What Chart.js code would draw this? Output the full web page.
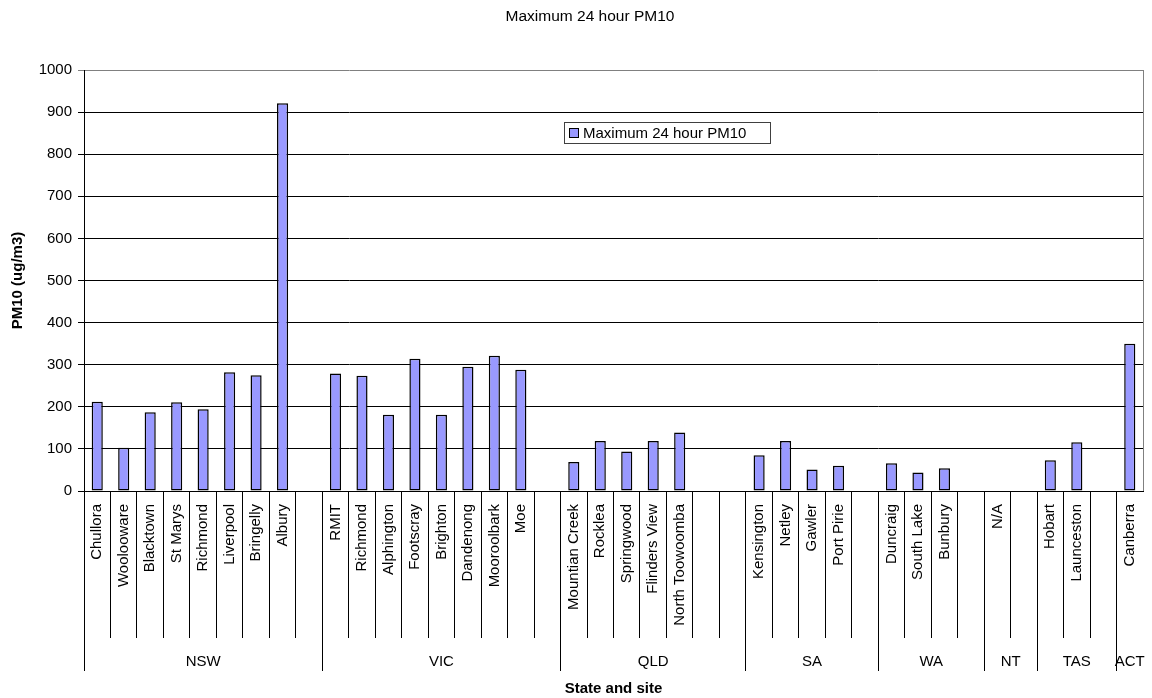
<!DOCTYPE html>
<html>
<head>
<meta charset="utf-8">
<title>Maximum 24 hour PM10</title>
<script src="https://cdn.jsdelivr.net/npm/chart.js@4.4.1/dist/chart.umd.min.js"></script>
<style>
    html, body { margin: 0; padding: 0; background: #fff; }
    #wrap { width: 1152px; height: 698px; position: relative; }
</style>
</head>
<body>
<div id="wrap"><canvas id="pm10Chart"></canvas></div>
<script>
// Datos
const tituloGrafico = 'Maximum 24 hour PM10';
const sitios = [
    'Chullora', 'Woolooware', 'Blacktown', 'St Marys', 'Richmond', 'Liverpool', 'Bringelly', 'Albury', '',
    'RMIT', 'Richmond', 'Alphington', 'Footscray', 'Brighton', 'Dandenong', 'Mooroolbark', 'Moe', '',
    'Mountian Creek', 'Rocklea', 'Springwood', 'Flinders View', 'North Toowoomba', '', '',
    'Kensington', 'Netley', 'Gawler', 'Port Pirie', '',
    'Duncraig', 'South Lake', 'Bunbury', '',
    'N/A', '',
    'Hobart', 'Launceston', '',
    'Canberra'
];
const valoresPM10 = [
    212, 103, 187, 211, 194, 282, 275, 921, null,
    279, 274, 181, 314, 181, 295, 321, 288, null,
    69, 119, 94, 119, 139, null, null,
    85, 119, 51, 60, null,
    66, 44, 54, null,
    null, null,
    73, 116, null,
    350
];
const estados = ['NSW', 'VIC', 'QLD', 'SA', 'WA', 'NT', 'TAS', 'ACT'];
const sitiosPorEstado = [9, 9, 7, 5, 4, 2, 3, 1];
const ticksY = { min: 0, max: 1000, step: 100 };

const fuente = "'Liberation Sans', Arial, sans-serif";

function alinear(px) {
    return Math.round(px - 0.5) + 0.5;
}

// Titulo, leyenda y grupos de estados
const extrasPlugin = {
    id: 'extras',
    afterDraw(chart) {
        const ctx = chart.ctx;
        const area = chart.chartArea;
        const x = chart.scales.x;
        ctx.save();

        // borde derecho gris
        ctx.strokeStyle = '#808080';
        ctx.lineWidth = 1;
        ctx.beginPath();
        ctx.moveTo(alinear(area.right), area.top);
        ctx.lineTo(alinear(area.right), area.bottom);
        ctx.stroke();

        // titulo
        ctx.fillStyle = '#000';
        ctx.font = '15.5px ' + fuente;
        ctx.textAlign = 'center';
        ctx.textBaseline = 'middle';
        ctx.fillText(tituloGrafico, 590, 17);

        // leyenda
        ctx.font = '15px ' + fuente;
        const lx = 564, ly = 122, lw = 206, lh = 21;
        ctx.fillStyle = '#fff';
        ctx.fillRect(lx, ly, lw, lh);
        ctx.strokeStyle = '#404040';
        ctx.strokeRect(lx + 0.5, ly + 0.5, lw, lh);
        const ds = chart.data.datasets[0];
        ctx.fillStyle = ds.backgroundColor;
        ctx.fillRect(lx + 5, ly + 6, 10, 10);
        ctx.strokeStyle = '#000';
        ctx.strokeRect(lx + 5.5, ly + 6.5, 9, 9);
        ctx.fillStyle = '#000';
        ctx.textAlign = 'left';
        ctx.fillText(ds.label, lx + 19, ly + 11.5);

        // grupos
        const medio = (x.getPixelForValue(1) - x.getPixelForValue(0)) / 2;
        const y1 = area.bottom + 147, y2 = area.bottom + 180;
        ctx.strokeStyle = '#000';
        ctx.beginPath();
        let inicio = 0;
        for (let i = 0; i < estados.length; i++) {
            const px = alinear(x.getPixelForValue(inicio) - medio);
            ctx.moveTo(px, y1);
            ctx.lineTo(px, y2);
            inicio += sitiosPorEstado[i];
        }
        ctx.stroke();

        ctx.textAlign = 'center';
        inicio = 0;
        estados.forEach(function(est, i) {
            const a = x.getPixelForValue(inicio) - medio;
            const b = x.getPixelForValue(inicio + sitiosPorEstado[i] - 1) + medio;
            ctx.fillText(est, (a + b) / 2, area.bottom + 171);
            inicio += sitiosPorEstado[i];
        });
        ctx.restore();
    }
};

const ctxPM = document.getElementById('pm10Chart');
new Chart(ctxPM, {
    type: 'bar',
    data: {
        labels: sitios,
        datasets: [{
            label: 'Maximum 24 hour PM10',
            data: valoresPM10,
            backgroundColor: '#9999ff',
            borderColor: '#000',
            borderWidth: 1.5,
            borderSkipped: false,
            categoryPercentage: 1,
            barPercentage: 0.42
        }]
    },
    options: {
        responsive: true,
        maintainAspectRatio: false,
        animation: false,
        devicePixelRatio: 1,
        layout: {
            padding: { top: 70, right: 9, left: 0, bottom: 0 }
        },
        plugins: {
            legend: { display: false },
            title: { display: false },
            tooltip: { enabled: false }
        },
        scales: {
            x: {
                offset: true,
                grid: {
                    offset: true,
                    drawOnChartArea: false,
                    drawTicks: true,
                    tickLength: 147,
                    color: function(c) {
                        return c.type === 'tick' ? '#000' : 'rgba(0,0,0,0)';
                    },
                    lineWidth: 1
                },
                border: { display: true, color: '#000' },
                ticks: {
                    autoSkip: false,
                    minRotation: 90,
                    maxRotation: 90,
                    padding: -134,
                    color: '#000',
                    font: { family: fuente, size: 15 }
                },
                title: {
                    display: true,
                    text: 'State and site',
                    color: '#000',
                    font: { family: fuente, size: 15, weight: 'bold' },
                    padding: { top: 0, bottom: 0 }
                },
                afterFit: function(scale) {
                    scale.height = 207;
                }
            },
            y: {
                min: ticksY.min,
                max: ticksY.max,
                grid: {
                    color: function(c) {
                        return c.tick && c.tick.value === ticksY.max ? '#808080' : '#000';
                    },
                    lineWidth: 1,
                    tickLength: 6
                },
                border: { display: true, color: '#000' },
                ticks: {
                    stepSize: ticksY.step,
                    padding: 6,
                    color: '#000',
                    font: { family: fuente, size: 15 },
                    callback: function(value) {
                        return value;
                    }
                },
                title: {
                    display: true,
                    text: 'PM10 (ug/m3)',
                    color: '#000',
                    font: { family: fuente, size: 15, weight: 'bold' },
                    padding: { top: 9, bottom: 0 }
                },
                afterFit: function(scale) {
                    scale.width = 84;
                }
            }
        }
    },
    plugins: [extrasPlugin]
});
</script>
</body>
</html>
